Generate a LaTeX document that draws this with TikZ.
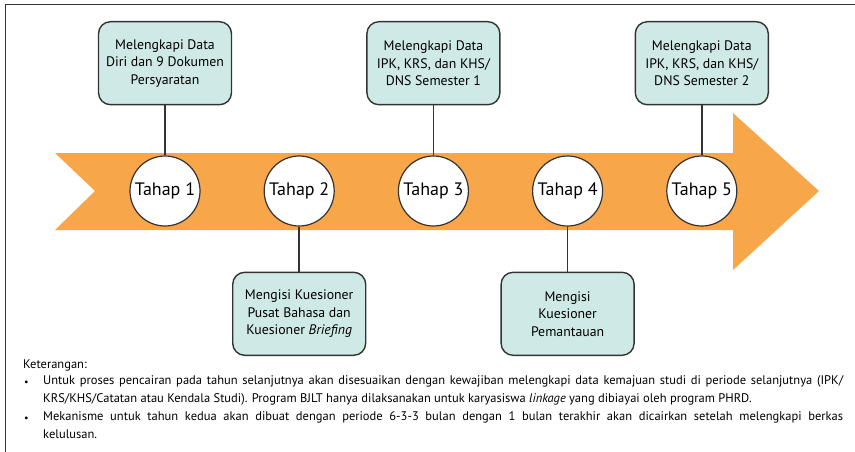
\documentclass[tikz,border=0pt]{standalone}
\usepackage{fontspec}
\setmainfont{PT Sans}
\usetikzlibrary{positioning}
\definecolor{arroworange}{RGB}{247,166,74}
\definecolor{boxteal}{RGB}{207,233,230}
\definecolor{linegray}{RGB}{51,51,51}

\begin{document}
\begin{tikzpicture}[
    x=1pt, y=-1pt,
    node distance=63pt,
    stage/.style={
        circle,
        draw=linegray,
        line width=1.2pt,
        fill=white,
        minimum size=70pt,
        inner sep=0pt,
        font=\fontsize{18}{20}\selectfont
    },
    task/.style={
        draw=linegray,
        line width=1.4pt,
        fill=boxteal,
        rounded corners=12pt,
        align=center,
        minimum width=133pt,
        minimum height=83pt,
        font=\fontsize{13.8}{17.5}\selectfont
    },
    link/.style={draw=linegray, line width=1.5pt},
    note/.style={inner sep=0pt, font=\fontsize{12.5}{18.3}\selectfont}
]
    \useasboundingbox (0,0) rectangle (855,452);

    % Bingkai dan panah
    \draw[line width=1pt, linegray] (5,452) -- (5,5) -- (855,5);
    \fill[arroworange] (55,153) -- (733,153) -- (733,113) -- (819,191)
        -- (733,270) -- (733,230) -- (55,230) -- (95,191) -- cycle;

    % Tahapan
    \node[stage] (t1) at (165,191) {Tahap 1};
    \node[stage, right=of t1] (t2) {Tahap 2};
    \node[stage, right=of t2] (t3) {Tahap 3};
    \node[stage, right=of t3] (t4) {Tahap 4};
    \node[stage, right=of t4] (t5) {Tahap 5};

    % Kegiatan
    \node[task, above=50pt of t1] (d1) {Melengkapi Data\\Diri dan 9 Dokumen\\Persyaratan};
    \node[task, below=45pt of t2] (d2) {Mengisi Kuesioner\\Pusat Bahasa dan\\Kuesioner \textit{Briefing}};
    \node[task, above=50pt of t3] (d3) {Melengkapi Data\\IPK, KRS, dan KHS/\\DNS Semester 1};
    \node[task, below=45pt of t4] (d4) {Mengisi\\Kuesioner\\Pemantauan};
    \node[task, above=50pt of t5] (d5) {Melengkapi Data\\IPK, KRS, dan KHS/\\DNS Semester 2};

    % Garis penghubung
    \draw[link] (d1) -- (t1);
    \draw[link] (t2) -- (d2);
    \draw[link] (d3) -- (t3);
    \draw[link] (t4) -- (d4);
    \draw[link] (d5) -- (t5);

    % Keterangan
    \node[note, anchor=base west] (ket) at (23,368) {Keterangan:};
    \node[note, anchor=base west, font=\fontsize{10}{10}\selectfont] (p1) at (24,385) {\textbullet};
    \node[note, anchor=north west, text width=800pt, align=justify] (n1) at (43,375)
        {Untuk proses pencairan pada tahun selanjutnya akan disesuaikan dengan kewajiban melengkapi data kemajuan studi di periode selanjutnya (IPK/\linebreak KRS/KHS/Catatan atau Kendala Studi). Program BJLT hanya dilaksanakan untuk karyasiswa \textit{linkage} yang dibiayai oleh program PHRD.};
    \node[note, anchor=base west, font=\fontsize{10}{10}\selectfont] (p2) at (24,421) {\textbullet};
    \node[note, anchor=north west, text width=800pt, align=justify] (n2) at (43,411)
        {Mekanisme untuk tahun kedua akan dibuat dengan periode 6-3-3 bulan dengan 1 bulan terakhir akan dicairkan setelah melengkapi berkas\linebreak kelulusan.};
\end{tikzpicture}
\end{document}
